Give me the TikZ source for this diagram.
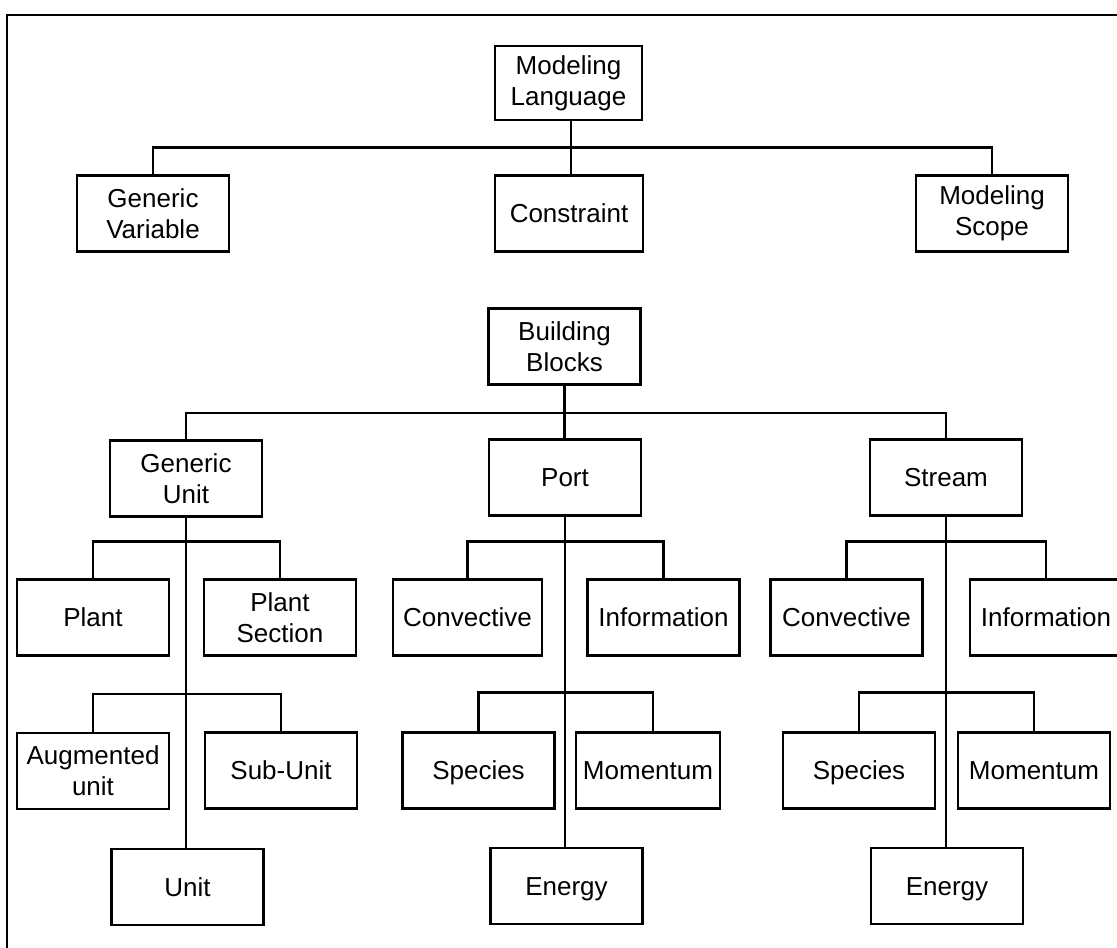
\documentclass[tikz,border=0pt]{standalone}
\usepackage{fontspec}
\setmainfont{Liberation Sans}
\begin{document}
\begin{tikzpicture}[x=1pt,y=-1pt,
  line width=2.3pt,
  box/.style={draw, line width=2.3pt, minimum width=152pt, minimum height=76pt,
    inner sep=0pt, align=center, font=\fontsize{26}{31}\selectfont},
  one/.style={text height=18.6pt, text depth=0pt},
  link/.style={line width=2.3pt}]
\useasboundingbox (0,0) rectangle (1117,948);
% outer frame (only top and left edges fall inside the page)
\draw (7,970) -- (7,15) -- (1140,15);

% ---- modeling language ----
\node[box, minimum width=147pt, minimum height=74pt] (ML) at (568.5,83) {Modeling\\Language};
\node[box] (GV)  at (153,213.5) {Generic\\Variable};
\node[box, one, minimum width=148pt] (Con) at (569,213.5) {Constraint};
\node[box] (MS)  at (992,213.5) {Modeling\\Scope};

\draw[link] ([xshift=2pt]Con.north) -- ([xshift=2pt]Con.north |- ML.south);
\draw[link] (GV.north) -- ++(0,-27) -| (MS.north);

% ---- building blocks ----
\node[box] (BB) at (564.5,346.5) {Building\\Blocks};
\node[box] (GU) at (186,478.5) {Generic\\Unit};
\node[box, one] (Port) at (565,477.5) {Port};
\node[box, one] (Stream) at (946,477.5) {Stream};

\draw[link] (BB.south) -- (BB.south |- Port.north);
\draw[link] (GU.north) -- ++(0,-26.5) -| (Stream.north);

% ---- generic unit subtree ----
\node[box, one] (Plant) at (93,617.5) {Plant};
\node[box] (PSec)  at (280,617.5) {Plant\\Section};
\node[box] (Aug)   at (93,771) {Augmented\\unit};
\node[box, one] (Sub)   at (281,770.5) {Sub-Unit};
\node[box, one] (Unit)  at (187.5,887) {Unit};

\draw[link] (GU.south) -- (GU.south |- Unit.north);
\draw[link] (Plant.north) -- ++(0,-37) -| (PSec.north);
\draw[link] (Aug.north) -- ++(0,-38) -| (Sub.north);

% ---- port subtree ----
\node[box, one, minimum width=149pt] (PConv) at (467.5,617.5) {Convective};
\node[box, one] (PInfo) at (663.5,617.5) {Information};
\node[box, one] (PSpec) at (478.5,770.5) {Species};
\node[box, one, minimum width=144pt] (PMom) at (648,770.5) {Momentum};
\node[box, one] (PEn)   at (566.5,886) {Energy};

\draw[link] (Port.south) -- (Port.south |- PEn.north);
\draw[link] (PConv.north) -- ++(0,-37) -| (PInfo.north);
\draw[link] (PSpec.north) -- ++(0,-39) -| ([xshift=5pt]PMom.north);

% ---- stream subtree ----
\node[box, one] (SConv) at (846.5,617.5) {Convective};
\node[box, one] (SInfo) at (1046,617.5) {Information};
\node[box, one] (SSpec) at (859,770.5) {Species};
\node[box, one] (SMom)  at (1034,770.5) {Momentum};
\node[box, one] (SEn)   at (947,886) {Energy};

\draw[link] (Stream.south) -- (Stream.south |- SEn.north);
\draw[link] (SConv.north) -- ++(0,-37) -| (SInfo.north);
\draw[link] (SSpec.north) -- ++(0,-39) -| (SMom.north);
\end{tikzpicture}
\end{document}
